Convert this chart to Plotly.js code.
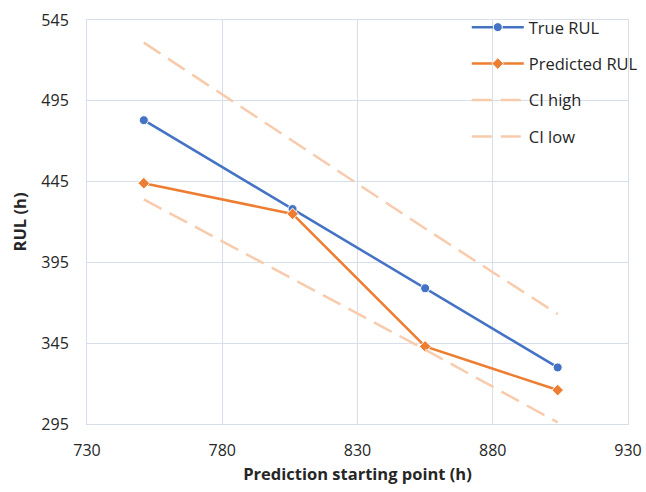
<!DOCTYPE html>
<html>
<head>
<meta charset="utf-8">
<script src="https://cdn.plot.ly/plotly-3.0.1.min.js"></script>
<style>html,body{margin:0;padding:0;background:#fff;}#chart{width:646px;height:492px;}</style>
</head>
<body>
<div id="chart"></div>
<script>
// Data
var startPoints = [751, 806, 855, 904];
var trueRUL = [483, 428, 379, 330];
var predictedRUL = [444, 425, 343, 316];
var ciHigh = [531, 470, 416, 363];
var ciLow = [434, 385, 341, 296];
var seriesNames = ['True RUL', 'Predicted RUL', 'CI high', 'CI low'];
var xTicks = [730, 780, 830, 880, 930];
var yTicks = [295, 345, 395, 445, 495, 545];

var FONT = '"Open Sans", "Noto Sans", sans-serif';
var gridColor = '#D9DFEA';

var traces = [
  {x: startPoints, y: trueRUL, name: seriesNames[0], mode: 'lines+markers', legendgroup: 'a',
   line: {color: '#4472C4', width: 2.5},
   marker: {symbol: 'circle', size: 9, color: '#4472C4', line: {color: '#ffffff', width: 1}}},
  {x: startPoints, y: predictedRUL, name: seriesNames[1], mode: 'lines+markers', legendgroup: 'b',
   line: {color: '#ED7D31', width: 2.5},
   marker: {symbol: 'diamond', size: 9, color: '#ED7D31', line: {color: '#ffffff', width: 1}}},
  {x: startPoints, y: ciHigh, name: seriesNames[2], mode: 'lines', legendgroup: 'c',
   line: {color: '#F8CBAD', width: 2.5, dash: '20px,9px'}},
  {x: startPoints, y: ciLow, name: seriesNames[3], mode: 'lines', legendgroup: 'd',
   line: {color: '#F8CBAD', width: 2.5, dash: '20px,9px'}}
];

var layout = {
  width: 646, height: 492,
  margin: {l: 87, r: 18, t: 20, b: 68, autoexpand: false},
  paper_bgcolor: '#ffffff', plot_bgcolor: '#ffffff',
  font: {family: FONT, color: '#262626', size: 15},
  showlegend: true,
  legend: {
    x: 0.702, xanchor: 'left', y: 1.025, yanchor: 'top',
    bgcolor: 'rgba(0,0,0,0)', font: {family: FONT, size: 16.5, color: '#262626'},
    traceorder: 'grouped', tracegroupgap: 12, itemwidth: 52
  },
  xaxis: {
    range: [730, 930], tickvals: xTicks, ticktext: xTicks.map(String),
    showgrid: true, gridcolor: gridColor, gridwidth: 1,
    showline: true, linecolor: gridColor, linewidth: 1, mirror: true,
    zeroline: false, ticks: '', ticklabelstandoff: 12,
    tickfont: {family: FONT, size: 16, color: '#262626'},
    title: {text: '<b>Prediction starting point (h)</b>', font: {family: FONT, size: 16.5, color: '#262626'}, standoff: 8}
  },
  yaxis: {
    range: [295, 545], tickvals: yTicks, ticktext: yTicks.map(String),
    showgrid: true, gridcolor: gridColor, gridwidth: 1,
    showline: true, linecolor: gridColor, linewidth: 1, mirror: true,
    zeroline: false, ticks: '', ticklabelstandoff: 14,
    tickfont: {family: FONT, size: 16, color: '#262626'},
    title: {text: '<b>RUL (h)</b>', font: {family: FONT, size: 16.5, color: '#262626'}, standoff: 10}
  }
};

Plotly.newPlot('chart', traces, layout, {displayModeBar: false, staticPlot: true});
</script>
</body>
</html>
